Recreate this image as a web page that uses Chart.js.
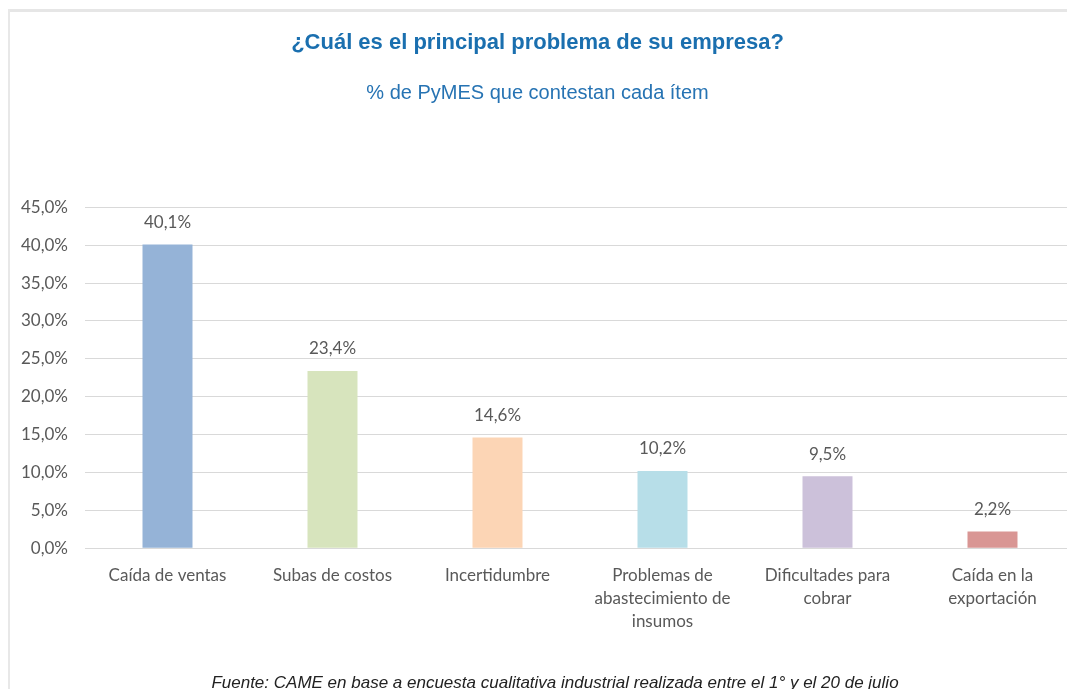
<!DOCTYPE html>
<html lang="es">
<head>
<meta charset="utf-8">
<title>¿Cuál es el principal problema de su empresa?</title>
<script src="https://cdn.jsdelivr.net/npm/chart.js@4/dist/chart.umd.min.js"></script>
<style>
  html, body { margin: 0; padding: 0; background: #fff; overflow: hidden; }
  #wrap { position: relative; width: 1067px; height: 689px; overflow: hidden; }
  #chart { position: absolute; left: 0; top: 0; }
  .edge-top { position: absolute; left: 8px; top: 9px; width: 1059px; height: 3px; background: #e6e6e6; }
  .edge-left { position: absolute; left: 8px; top: 9px; width: 2px; height: 680px; background: #e8e8e8; }
  #fuente {
    position: absolute; left: 0; width: 1110px; top: 673px; text-align: center;
    font: italic 17px "Liberation Sans", Arial, sans-serif; color: #222;
  }
</style>
</head>
<body>
<div id="wrap">
  <div class="edge-top"></div>
  <div class="edge-left"></div>
  <canvas id="chart" width="1085" height="689"></canvas>
  <div id="fuente">Fuente: CAME en base a encuesta cualitativa industrial realizada entre el 1° y el 20 de julio</div>
</div>

<script>
/* datos */
const CATEGORIAS = [
  ['Caída de ventas'],
  ['Subas de costos'],
  ['Incertidumbre'],
  ['Problemas de', 'abastecimiento de', 'insumos'],
  ['Dificultades para', 'cobrar'],
  ['Caída en la', 'exportación'],
];
const VALORES = [40.1, 23.4, 14.6, 10.2, 9.5, 2.2];
const COLORES = ['#95b3d7', '#d7e4bd', '#fcd5b5', '#b7dee8', '#ccc1da', '#d99694'];
const EJE_Y = { min: 0, max: 45, paso: 5 };

const TITULO = '¿Cuál es el principal problema de su empresa?';
const SUBTITULO = '% de PyMES que contestan cada ítem';

const GRIS = '#595959';
const fmt = (v, dec) => v.toFixed(dec).replace('.', ',') + '%';

// etiquetas de valor encima de cada barra
const etiquetas = {
  id: 'etiquetas',
  afterDatasetsDraw(chart) {
    const ctx = chart.ctx;
    const meta = chart.getDatasetMeta(0);
    ctx.save();
    ctx.font = '17px Lato, "Open Sans", sans-serif';
    ctx.fillStyle = GRIS;
    ctx.textAlign = 'center';
    ctx.textBaseline = 'middle';
    meta.data.forEach((bar, i) => {
      ctx.fillText(fmt(VALORES[i], 1), bar.x, bar.y - 22);
    });
    ctx.restore();
  }
};

new Chart(document.getElementById('chart'), {
  type: 'bar',
  data: {
    labels: CATEGORIAS,
    datasets: [{
      data: VALORES,
      backgroundColor: COLORES,
      borderWidth: 0,
      categoryPercentage: 1,
      barPercentage: 0.303,
    }],
  },
  options: {
    responsive: false,
    animation: false,
    layout: { padding: { top: 0, right: 10, bottom: 48, left: 0 } },
    plugins: {
      legend: { display: false },
      tooltip: { enabled: false },
      title: {
        display: true,
        text: TITULO,
        color: '#1a6faf',
        font: { family: '"Liberation Sans", Arial, sans-serif', size: 22, weight: 'bold' },
        padding: { top: 30, bottom: 25 },
      },
      subtitle: {
        display: true,
        text: SUBTITULO,
        color: '#2673b3',
        font: { family: '"Liberation Sans", Arial, sans-serif', size: 20 },
        padding: { top: 0, bottom: 102 },
      },
    },
    scales: {
      x: {
        grid: { display: false },
        border: { display: false },
        ticks: {
          color: GRIS,
          font: { family: 'Lato, "Open Sans", sans-serif', size: 17, lineHeight: 1.35 },
          padding: 8,
          maxRotation: 0,
          autoSkip: false,
        },
      },
      y: {
        min: EJE_Y.min,
        max: EJE_Y.max,
        afterFit(s) { s.width = 85; },
        grid: { color: '#d9d9d9', drawTicks: false },
        border: { display: false },
        ticks: {
          stepSize: EJE_Y.paso,
          color: GRIS,
          padding: 17,
          font: { family: 'Lato, "Open Sans", sans-serif', size: 17 },
          callback: v => fmt(v, 1),
        },
      },
    },
  },
  plugins: [etiquetas],
});
</script>
</body>
</html>
